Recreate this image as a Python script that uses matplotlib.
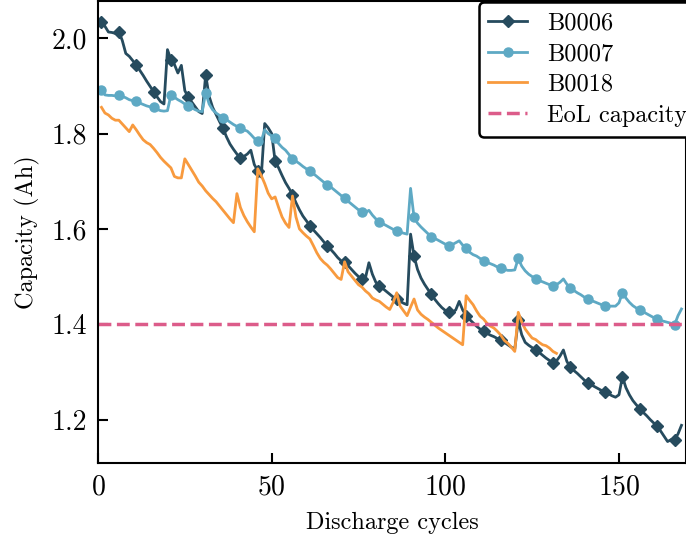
import matplotlib
matplotlib.use("Agg")
import matplotlib.pyplot as plt
import numpy as np

plt.rcParams['font.family'] = 'serif'
plt.rcParams['font.serif'] = ['cmr10', 'DejaVu Serif']
plt.rcParams['mathtext.fontset'] = 'cm'
plt.rcParams['axes.formatter.use_mathtext'] = True

# capacity per discharge cycle (Ah)
b0006 = [2.035, 2.025, 2.013, 2.012, 2.010, 2.014, 1.995, 1.968, 1.962, 1.953,
         1.944, 1.933, 1.922, 1.910, 1.899, 1.888, 1.877, 1.867, 1.862, 1.976,
         1.955, 1.945, 1.927, 1.943, 1.890, 1.876, 1.866, 1.856, 1.846, 1.842,
         1.923, 1.878, 1.855, 1.840, 1.825, 1.811, 1.793, 1.778, 1.767, 1.757,
         1.748, 1.752, 1.757, 1.765, 1.735, 1.722, 1.709, 1.821, 1.812, 1.800,
         1.742, 1.728, 1.712, 1.697, 1.685, 1.672, 1.655, 1.640, 1.627, 1.617,
         1.607, 1.598, 1.590, 1.582, 1.573, 1.565, 1.557, 1.549, 1.540, 1.533,
         1.530, 1.523, 1.515, 1.507, 1.500, 1.494, 1.497, 1.529, 1.505, 1.488,
         1.480, 1.475, 1.469, 1.463, 1.457, 1.452, 1.448, 1.444, 1.441, 1.589,
         1.543, 1.515, 1.497, 1.484, 1.473, 1.463, 1.452, 1.443, 1.435, 1.429,
         1.426, 1.425, 1.430, 1.448, 1.430, 1.418, 1.410, 1.403, 1.396, 1.390,
         1.385, 1.381, 1.377, 1.374, 1.370, 1.366, 1.362, 1.357, 1.352, 1.348,
         1.408, 1.378, 1.362, 1.356, 1.351, 1.346, 1.341, 1.335, 1.329, 1.324,
         1.319, 1.323, 1.333, 1.346, 1.322, 1.310, 1.303, 1.297, 1.290, 1.283,
         1.277, 1.273, 1.269, 1.265, 1.261, 1.258, 1.254, 1.250, 1.247, 1.252,
         1.290, 1.267, 1.252, 1.240, 1.231, 1.223, 1.215, 1.208, 1.200, 1.193,
         1.186, 1.176, 1.165, 1.154, 1.158, 1.158, 1.170, 1.188]

b0007 = [1.891, 1.881, 1.880, 1.880, 1.879, 1.880, 1.878, 1.875, 1.871, 1.869,
         1.868, 1.864, 1.861, 1.858, 1.856, 1.855, 1.851, 1.848, 1.847, 1.848,
         1.881, 1.876, 1.871, 1.867, 1.862, 1.857, 1.854, 1.850, 1.847, 1.846,
         1.886, 1.862, 1.850, 1.843, 1.838, 1.833, 1.829, 1.824, 1.819, 1.815,
         1.811, 1.808, 1.805, 1.798, 1.790, 1.784, 1.784, 1.808, 1.800, 1.795,
         1.790, 1.779, 1.771, 1.765, 1.756, 1.747, 1.742, 1.737, 1.731, 1.726,
         1.721, 1.716, 1.710, 1.704, 1.698, 1.693, 1.688, 1.682, 1.676, 1.670,
         1.664, 1.658, 1.652, 1.646, 1.640, 1.635, 1.634, 1.639, 1.629, 1.621,
         1.615, 1.611, 1.607, 1.603, 1.599, 1.595, 1.593, 1.591, 1.589, 1.685,
         1.624, 1.612, 1.604, 1.597, 1.590, 1.584, 1.580, 1.576, 1.572, 1.568,
         1.565, 1.567, 1.571, 1.575, 1.566, 1.559, 1.551, 1.546, 1.543, 1.538,
         1.533, 1.530, 1.527, 1.524, 1.520, 1.517, 1.515, 1.513, 1.513, 1.514,
         1.538, 1.522, 1.512, 1.505, 1.500, 1.495, 1.492, 1.489, 1.486, 1.483,
         1.481, 1.483, 1.488, 1.495, 1.484, 1.476, 1.471, 1.466, 1.462, 1.457,
         1.453, 1.450, 1.447, 1.444, 1.441, 1.439, 1.438, 1.438, 1.438, 1.445,
         1.466, 1.455, 1.446, 1.439, 1.434, 1.430, 1.426, 1.422, 1.418, 1.414,
         1.410, 1.408, 1.406, 1.404, 1.402, 1.399, 1.418, 1.432]

b0018 = [1.855, 1.843, 1.839, 1.832, 1.828, 1.828, 1.820, 1.812, 1.804, 1.818,
         1.808, 1.797, 1.787, 1.781, 1.777, 1.769, 1.760, 1.750, 1.742, 1.735,
         1.728, 1.710, 1.707, 1.707, 1.747, 1.735, 1.723, 1.711, 1.698, 1.690,
         1.680, 1.672, 1.664, 1.657, 1.648, 1.639, 1.630, 1.621, 1.613, 1.674,
         1.645, 1.628, 1.615, 1.604, 1.594, 1.726, 1.712, 1.695, 1.675, 1.663,
         1.667, 1.645, 1.625, 1.612, 1.603, 1.669, 1.625, 1.600, 1.592, 1.585,
         1.579, 1.565, 1.550, 1.538, 1.530, 1.524, 1.516, 1.507, 1.498, 1.494,
         1.531, 1.510, 1.501, 1.492, 1.483, 1.478, 1.470, 1.464, 1.455, 1.451,
         1.448, 1.442, 1.436, 1.431, 1.446, 1.466, 1.438, 1.428, 1.418, 1.436,
         1.453, 1.430, 1.421, 1.415, 1.410, 1.404, 1.398, 1.392, 1.387, 1.382,
         1.377, 1.372, 1.367, 1.362, 1.357, 1.460, 1.450, 1.441, 1.428, 1.417,
         1.411, 1.402, 1.396, 1.392, 1.385, 1.377, 1.366, 1.360, 1.352, 1.343,
         1.425, 1.405, 1.390, 1.380, 1.371, 1.368, 1.362, 1.357, 1.355, 1.350,
         1.343, 1.339]

eol_capacity = 1.4

fig = plt.figure(figsize=(6.86, 5.37), dpi=100)
ax = fig.add_axes([98 / 686, 74 / 537, 588 / 686, 462 / 537])

ax.plot(np.arange(1, len(b0006) + 1), b0006, color='#264b5e', lw=2, marker='D',
        ms=6.5, markevery=5, label='B0006')
ax.plot(np.arange(1, len(b0007) + 1), b0007, color='#5ea9c4', lw=2, marker='o',
        ms=6.5, markevery=5, label='B0007')
ax.plot(np.arange(1, len(b0018) + 1), b0018, color='#f89a3e', lw=2, label='B0018')
ax.axhline(eol_capacity, color='#dc5c8a', lw=2.5, ls='--', label='EoL capacity')

ax.set_xlim(0, 169.3)
ax.set_ylim(1.109, 2.078)
ax.set_xticks([0, 50, 100, 150])
ax.set_yticks([1.2, 1.4, 1.6, 1.8, 2.0])
ax.yaxis.set_major_formatter(matplotlib.ticker.FormatStrFormatter('%.1f'))
ax.tick_params(direction='in', length=7, width=1.5, labelsize=20, pad=8)
for s in ax.spines.values():
    s.set_linewidth(1.5)

ax.set_xlabel('Discharge cycles', fontsize=17.5, labelpad=8)
ax.set_ylabel('Capacity (Ah)', fontsize=17.5, labelpad=8)

leg = ax.legend(loc='upper right', bbox_to_anchor=(1.018, 0.997), fontsize=17.5,
                borderaxespad=0, handlelength=1.6, labelspacing=0.36,
                frameon=True, fancybox=True, framealpha=1)
leg.get_frame().set_edgecolor('black')
leg.get_frame().set_linewidth(1.8)

fig.savefig('out.png', dpi=100)
